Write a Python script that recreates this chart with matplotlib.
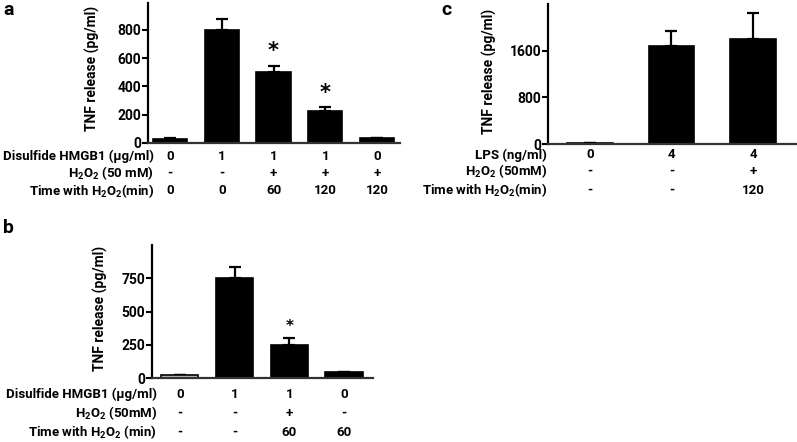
import matplotlib
matplotlib.use("Agg")
import matplotlib.pyplot as plt
from matplotlib.transforms import blended_transform_factory

FONT = 'Roboto'
plt.rcParams['font.family'] = [FONT, 'DejaVu Sans']
plt.rcParams['font.weight'] = 'bold'
plt.rcParams['mathtext.fontset'] = 'custom'
plt.rcParams['mathtext.rm'] = FONT + ':bold'
plt.rcParams['mathtext.it'] = FONT + ':bold'
plt.rcParams['mathtext.bf'] = FONT + ':bold'

# ---- data ----
a_means = [26, 800, 505, 226, 37]
a_errs = [6, 77, 42, 26, 0]
a_stars = [False, False, True, True, False]
a_row_labels = ["Disulfide HMGB1 (µg/ml)", "H$_2$O$_2$ (50 mM)", "Time with H$_2$O$_2$(min)"]
a_row1 = ["0", "1", "1", "1", "0"]
a_row2 = ["-", "-", "+", "+", "+"]
a_row3 = ["0", "0", "60", "120", "120"]
a_yticks = [0, 200, 400, 600, 800]

b_means = [25, 750, 250, 42]
b_errs = [0, 83, 50, 0]
b_stars = [False, False, True, False]
b_row_labels = ["Disulfide HMGB1 (µg/ml)", "H$_2$O$_2$ (50mM)", "Time with H$_2$O$_2$ (min)"]
b_row1 = ["0", "1", "1", "0"]
b_row2 = ["-", "-", "+", "-"]
b_row3 = ["-", "-", "60", "60"]
b_yticks = [0, 250, 500, 750]

c_means = [20, 1686, 1796]
c_errs = [0, 252, 446]
c_row_labels = ["LPS (ng/ml)", "H$_2$O$_2$ (50mM)", "Time with H$_2$O$_2$(min)"]
c_row1 = ["0", "4", "4"]
c_row2 = ["-", "-", "+"]
c_row3 = ["-", "-", "120"]
c_yticks = [0, 800, 1600]

W, H = 797, 442
fig = plt.figure(figsize=(W / 100, H / 100), dpi=100)
FS = 9.5


def px_axes(left, right, top, bottom):
    return fig.add_axes([left / W, (H - bottom) / H, (right - left) / W, (bottom - top) / H])


def style(ax):
    for s in ['top', 'right']:
        ax.spines[s].set_visible(False)
    ax.spines['left'].set_linewidth(1.6)
    ax.spines['bottom'].set_linewidth(1.6)
    ax.spines['bottom'].set_color('#333333')
    ax.tick_params(axis='y', length=4, width=1.5, labelsize=10, pad=1)
    ax.set_xticks([])
    for t in ax.get_yticklabels():
        t.set_fontweight('bold')


def draw_panel(ax, means, errs, stars, width, ylim, yticks, xlim, first_face, star_off, star_size):
    x = list(range(len(means)))
    faces = [first_face] + ['black'] * (len(means) - 1)
    ax.bar(x, means, width=width, color=faces, edgecolor='black', linewidth=1.2, zorder=2)
    ax.errorbar(x, means, yerr=[[0] * len(errs), errs], fmt='none', ecolor='black',
                elinewidth=1.6, capsize=4, capthick=1.6, zorder=1)
    for xi, m, e, s in zip(x, means, errs, stars):
        if s:
            ax.text(xi, m + e + star_off, "*", ha='center', va='center', fontsize=star_size,
                    fontweight='bold', family='DejaVu Sans')
    ax.set_ylim(*ylim)
    ax.set_xlim(*xlim)
    ax.set_yticks(yticks)
    style(ax)


def table(ax, row_labels, rows, ys, label_right):
    tr = blended_transform_factory(ax.transData, fig.transFigure)
    for lab, vals, y in zip(row_labels, rows, ys):
        fig.text(label_right / W, (H - y) / H, lab, ha='right', va='center', fontsize=FS,
                 fontweight='bold')
        for i, v in enumerate(vals):
            ax.text(i, (H - y) / H, v, transform=tr, ha='center', va='center', fontsize=FS,
                    fontweight='bold')


# panel a
ax_a = px_axes(148, 400, 3, 143)
draw_panel(ax_a, a_means, a_errs, a_stars, 0.66, (0, 990), a_yticks, (-0.425, 4.444), 'black', 105, 15)
ax_a.set_ylabel("TNF release (pg/ml)", fontsize=10, fontweight='bold')
ax_a.yaxis.set_label_coords(-0.19, 0.53)
table(ax_a, a_row_labels, [a_row1, a_row2, a_row3], [156, 173, 191], 154)
fig.text(3 / W, (H - 10) / H, "a", fontsize=14, fontweight='bold', va='center', ha='left')

# panel b
ax_b = px_axes(152, 373, 245, 378)
draw_panel(ax_b, b_means, b_errs, b_stars, 0.68, (0, 1000), b_yticks, (-0.51, 3.53), '#bbbbbb', 90, 11)
ax_b.set_ylabel("TNF release (pg/ml)", fontsize=10, fontweight='bold')
ax_b.yaxis.set_label_coords(-0.20, 0.52)
table(ax_b, b_row_labels, [b_row1, b_row2, b_row3], [394, 413, 432], 157)
fig.text(3 / W, (H - 228) / H, "b", fontsize=14, fontweight='bold', va='center', ha='left')

# panel c
ax_c = px_axes(548, 797, 4, 144)
draw_panel(ax_c, c_means, c_errs, [False] * 3, 0.56, (0, 2400), c_yticks, (-0.515, 2.54), 'black', 0, 12)
ax_c.set_ylabel("TNF release (pg/ml)", fontsize=10, fontweight='bold')
ax_c.yaxis.set_label_coords(-0.205, 0.52)
table(ax_c, c_row_labels, [c_row1, c_row2, c_row3], [155, 171, 190], 547)
fig.text(441 / W, (H - 10) / H, "c", fontsize=14, fontweight='bold', va='center', ha='left')

fig.savefig("out.png", dpi=100)
